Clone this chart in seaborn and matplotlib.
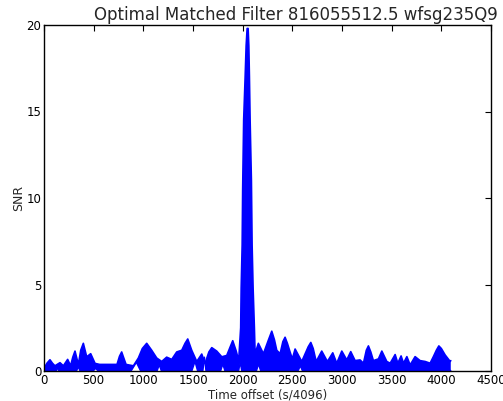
import numpy as np
import pandas as pd
import matplotlib
matplotlib.use("Agg")
import matplotlib.pyplot as plt
import seaborn as sns

title = "Optimal Matched Filter 816055512.5 wfsg235Q9"
x_label = "Time offset (s/4096)"
y_label = "SNR"
x_ticks = [0, 500, 1000, 1500, 2000, 2500, 3000, 3500, 4000, 4500]
y_ticks = [0, 5, 10, 15, 20]

# upper envelope of the oscillating SNR trace (sample offset, SNR)
env_hi_x = [0, 30, 60, 85, 110, 161, 195, 238, 268, 290, 312, 346, 370, 396,
            430, 470, 514, 560, 650, 735, 760, 782, 800, 826, 900, 950, 990,
            1034, 1084, 1135, 1185, 1235, 1286, 1336, 1387, 1420, 1447, 1487,
            1538, 1588, 1622, 1660, 1689, 1739, 1790, 1840, 1875, 1900, 1935,
            1960, 1980, 1985, 1995, 2000, 2010, 2025, 2035, 2045, 2055, 2062,
            2068, 2075, 2088, 2095, 2105, 2118, 2125, 2158, 2209, 2260, 2293,
            2320, 2343, 2377, 2405, 2427, 2450, 2477, 2500, 2528, 2595, 2660,
            2686, 2710, 2740, 2796, 2853, 2907, 2947, 2998, 3048, 3088, 3132,
            3182, 3216, 3245, 3266, 3290, 3316, 3367, 3401, 3451, 3485, 3535,
            3562, 3595, 3619, 3653, 3686, 3736, 3786, 3837, 3887, 3920, 3950,
            3975, 4000, 4038, 4089, 4095]
env_hi_y = [0.15, 0.45, 0.65, 0.45, 0.3, 0.48, 0.3, 0.67, 0.3, 0.8, 1.15, 0.38,
            1.2, 1.6, 0.82, 1.0, 0.44, 0.38, 0.38, 0.38, 0.85, 1.1, 0.8, 0.38,
            0.3, 0.75, 1.3, 1.6, 1.2, 0.75, 0.55, 0.8, 0.67, 1.1, 1.2, 1.6,
            1.85, 1.2, 0.55, 0.98, 0.45, 1.1, 1.35, 1.15, 0.82, 0.9, 1.4, 1.75,
            1.15, 0.6, 2.5, 4.8, 7.3, 10.5, 14.5, 17.0, 18.8, 19.8, 19.8, 18.8,
            17.0, 14.5, 11.0, 7.3, 4.8, 2.5, 1.0, 1.6, 1.0, 1.8, 2.3, 1.8, 1.2,
            1.0, 1.7, 1.95, 1.6, 1.1, 0.7, 1.27, 0.55, 1.4, 1.65, 1.3, 0.55,
            1.15, 0.55, 1.05, 0.45, 1.15, 0.64, 1.12, 0.6, 0.64, 0.45, 1.2,
            1.45, 1.1, 0.6, 0.7, 1.15, 0.55, 0.45, 0.95, 0.45, 0.87, 0.45, 0.83,
            0.35, 0.83, 0.6, 0.55, 0.45, 0.83, 1.2, 1.45, 1.3, 0.93, 0.55, 0.6]

# lower envelope (where the trace does not reach zero)
env_lo_x = [0, 125, 135, 145, 330, 345, 360, 500, 520, 540, 880, 930, 970, 1140,
            1160, 1180, 1490, 1520, 1545, 1600, 1615, 1630, 1780, 1800, 1820,
            1960, 1975, 1990, 2140, 2160, 2180, 2560, 2580, 2600, 4095]
env_lo_y = [0.03, 0.03, 0.25, 0.03, 0.03, 0.25, 0.03, 0.03, 0.15, 0.03, 0.03,
            0.5, 0.03, 0.03, 0.35, 0.03, 0.03, 0.55, 0.03, 0.03, 0.8, 0.03, 0.03,
            0.4, 0.03, 0.03, 0.5, 0.03, 0.03, 0.4, 0.03, 0.03, 0.3, 0.03, 0.03]

sns.set_style("white")
plt.rcParams.update({
    "font.family": ["DejaVu Sans"],
    "xtick.direction": "in", "ytick.direction": "in",
    "xtick.top": True, "ytick.right": True,
    "xtick.major.size": 4, "ytick.major.size": 4,
    "xtick.major.width": 0.8, "ytick.major.width": 0.8,
    "xtick.color": "black", "ytick.color": "black",
    "axes.edgecolor": "black", "axes.linewidth": 1.0,
})

fig = plt.figure(figsize=(5.03, 4.01), dpi=100)
ax = fig.add_axes([44 / 503, 30 / 401, 447 / 503, 346 / 401])

hi = pd.DataFrame({"x": env_hi_x, "y": env_hi_y})
lo = pd.DataFrame({"x": env_lo_x, "y": env_lo_y})

ax.fill(np.r_[hi["x"].to_numpy(), lo["x"].to_numpy()[::-1]],
        np.r_[hi["y"].to_numpy(), lo["y"].to_numpy()[::-1]],
        color="#0000ff", lw=0)
sns.lineplot(data=hi, x="x", y="y", ax=ax, color="#0000ff", lw=1.2,
             estimator=None, sort=False)
sns.lineplot(data=lo, x="x", y="y", ax=ax, color="#0000ff", lw=1.0,
             estimator=None, sort=False)

ax.set_xlim(0, 4500)
ax.set_ylim(0, 20)
ax.set_xticks(x_ticks)
ax.set_yticks(y_ticks)
ax.tick_params(labelsize=8.5, pad=2)
ax.set_xlabel(x_label, fontsize=8.5, labelpad=1)
ax.set_ylabel(y_label, fontsize=9, labelpad=1)
ax.set_title(title, fontsize=12, pad=3.5, x=0.564)
for s in ax.spines.values():
    s.set_visible(True)
    s.set_color("black")

fig.savefig("out.png", dpi=100)
